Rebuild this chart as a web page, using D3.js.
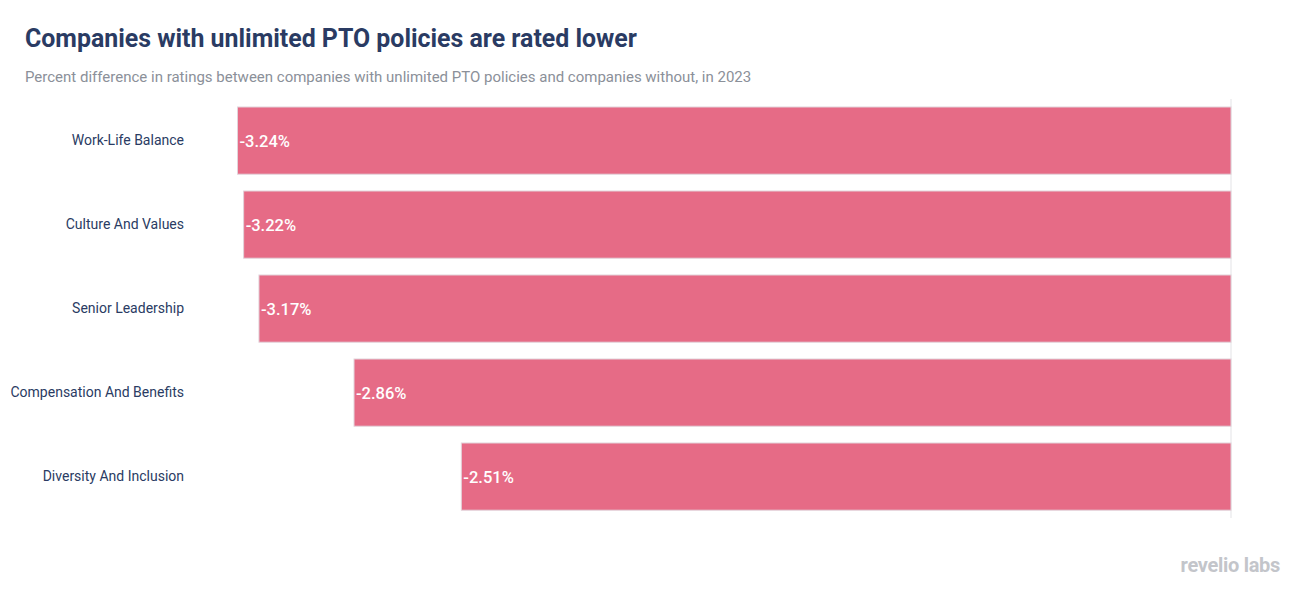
<!DOCTYPE html>
<html><head><meta charset="utf-8">
<script src="https://cdn.jsdelivr.net/npm/d3@7"></script>
<style>body{margin:0;background:#fff;font-family:Roboto,"Noto Sans",sans-serif;}</style>
</head><body><svg id="c" width="1311" height="589"></svg>
<script>
const categories = ["Work-Life Balance","Culture And Values","Senior Leadership","Compensation And Benefits","Diversity And Inclusion"];
const values = [-3.24,-3.22,-3.17,-2.86,-2.51];
const data = categories.map((c,i)=>({c, v: values[i]}));

const svg = d3.select("#c");
svg.append("text").attr("x",25).attr("y",47).attr("fill","#2a3b63")
  .attr("font-size",24.9).attr("font-weight",700).text("Companies with unlimited PTO policies are rated lower");
svg.append("text").attr("x",25).attr("y",82).attr("fill","#8b9099")
  .attr("font-size",15).text("Percent difference in ratings between companies with unlimited PTO policies and companies without, in 2023");

const x = d3.scaleLinear().domain([d3.min(values),0]).range([237.5,1231]);
const y = d3.scaleBand().domain(categories).range([98.6,518.6]).paddingInner(0.2).paddingOuter(0.1);

svg.append("line").attr("x1",x(0)).attr("x2",x(0)).attr("y1",99).attr("y2",518)
  .attr("stroke","#e3e3e6").attr("stroke-width",1);

svg.selectAll("rect.bar").data(data).join("rect").attr("class","bar")
  .attr("x",d=>x(d.v)).attr("y",d=>y(d.c)).attr("width",d=>x(0)-x(d.v)).attr("height",y.bandwidth())
  .attr("fill","#e66b86").attr("stroke","#e2d3da").attr("stroke-width",1);

svg.selectAll("text.val").data(data).join("text").attr("class","val")
  .attr("x",d=>x(d.v)+2).attr("y",d=>y(d.c)+y.bandwidth()/2).attr("dy","0.36em")
  .attr("fill","#fff").attr("font-size",16.5).attr("font-weight",500).text(d=>d.v.toFixed(2)+"%");

const ax = svg.append("g").attr("transform","translate(184,0)").call(d3.axisLeft(y).tickSize(0).tickPadding(0));
ax.select(".domain").remove();
ax.selectAll("text").attr("fill","#2a3b63").attr("font-size",14).attr("font-family","Roboto,sans-serif");

svg.append("text").attr("x",1280).attr("y",572).attr("text-anchor","end").attr("fill","#c3c5ca")
  .attr("font-size",20).attr("font-weight",700).attr("letter-spacing",-0.3).text("revelio labs");
</script></body></html>
